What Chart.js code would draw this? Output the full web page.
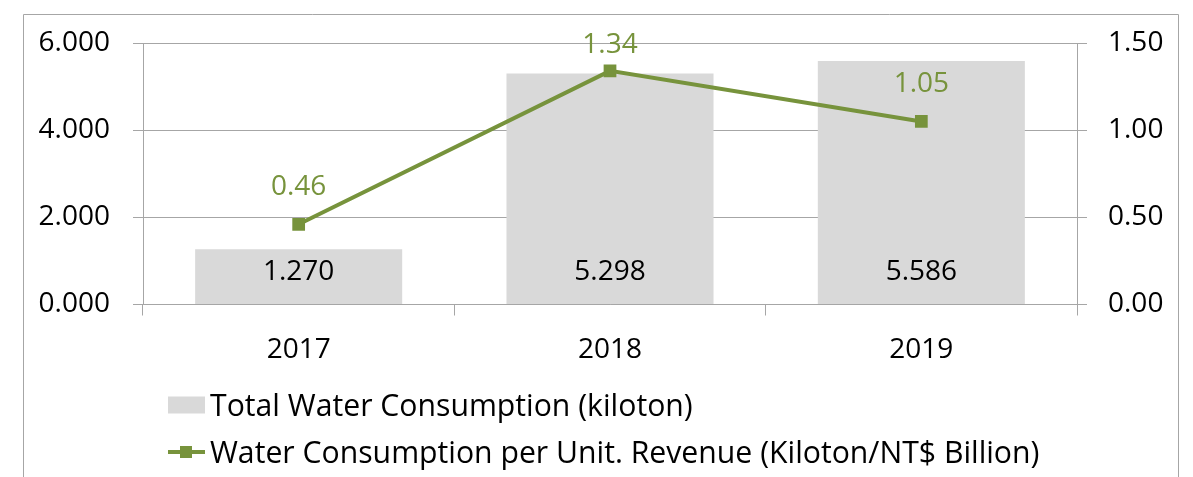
<!DOCTYPE html>
<html>
<head>
<meta charset="utf-8">
<script src="https://cdn.jsdelivr.net/npm/chart.js@4.4.0/dist/chart.umd.min.js"></script>
<style>
  html, body { margin: 0; padding: 0; background: #fff; }
  #wrap { position: relative; width: 1193px; height: 477px; overflow: hidden; font-family: "Open Sans", "Noto Sans", sans-serif; }
  canvas { position: absolute; left: 0; top: 0; }
  .leg { position: absolute; left: 168px; font-size: 30.2px; color: #000; white-space: nowrap; line-height: 1; }
  .leg .txt { position: absolute; left: 42px; top: 0; transform: translateY(-50%); }
  .sw-bar { position: absolute; left: 0; width: 37px; height: 17px; background: #d9d9d9; transform: translateY(-50%); }
  .sw-line { position: absolute; left: 0; width: 37px; height: 4px; background: #77933c; transform: translateY(-50%); }
  .sw-pt { position: absolute; left: 12px; width: 12px; height: 12px; background: #77933c; transform: translateY(-50%); }
</style>
</head>
<body>
<div id="wrap">
  <canvas id="c" width="1193" height="477"></canvas>
  <div class="leg" style="top:405px;"><div class="sw-bar"></div><div class="txt" id="leg1"></div></div>
  <div class="leg" style="top:452px;"><div class="sw-line"></div><div class="sw-pt"></div><div class="txt" id="leg2"></div></div>
</div>
<script>
const categories = ["2017", "2018", "2019"];
const totalWater = [1.270, 5.298, 5.586];
const waterPerRevenue = [0.46, 1.34, 1.05];
const barName = "Total Water Consumption (kiloton)";
const lineName = "Water Consumption per Unit. Revenue (Kiloton/NT$ Billion)";
const leftTicks = [0, 2, 4, 6];
const rightTicks = [0, 0.5, 1.0, 1.5];

document.getElementById('leg1').textContent = barName;
document.getElementById('leg2').textContent = lineName;

const FONT = '"Open Sans", "Noto Sans", sans-serif';
const GREEN = '#77933c';
const GRID = '#a6a6a6';

const framePlugin = {
  id: 'frame',
  beforeDraw(chart) {
    const ctx = chart.ctx;
    ctx.save();
    ctx.strokeStyle = GRID;
    ctx.lineWidth = 1;
    ctx.beginPath();
    ctx.moveTo(23.5, 480);
    ctx.lineTo(23.5, 14.5);
    ctx.lineTo(1178.5, 14.5);
    ctx.lineTo(1178.5, 480);
    ctx.stroke();
    ctx.restore();
  }
};

const labelPlugin = {
  id: 'vlabels',
  afterDatasetsDraw(chart) {
    const ctx = chart.ctx;
    ctx.save();
    ctx.font = '28px ' + FONT;
    ctx.textAlign = 'center';
    ctx.textBaseline = 'middle';
    const barMeta = chart.getDatasetMeta(1);
    const base = chart.scales.y.getPixelForValue(0);
    barMeta.data.forEach((el, i) => {
      ctx.fillStyle = '#000';
      ctx.fillText(totalWater[i].toFixed(3), el.x, base - 32);
    });
    const lineMeta = chart.getDatasetMeta(0);
    lineMeta.data.forEach((el, i) => {
      ctx.fillStyle = GREEN;
      ctx.fillText(waterPerRevenue[i].toFixed(2), el.x, Math.max(el.y - 37, 45));
    });
    ctx.restore();
  }
};

new Chart(document.getElementById('c'), {
  data: {
    labels: categories,
    datasets: [
      {
        type: 'line',
        label: lineName,
        data: waterPerRevenue,
        yAxisID: 'y1',
        borderColor: GREEN,
        backgroundColor: GREEN,
        borderWidth: 4,
        pointStyle: 'rect',
        pointRadius: 9,
        pointHoverRadius: 9,
        pointBackgroundColor: GREEN,
        pointBorderWidth: 0,
        tension: 0,
        order: 0
      },
      {
        type: 'bar',
        label: barName,
        data: totalWater,
        yAxisID: 'y',
        backgroundColor: '#d9d9d9',
        borderWidth: 0,
        categoryPercentage: 0.665,
        barPercentage: 1.0,
        order: 1
      }
    ]
  },
  options: {
    responsive: false,
    devicePixelRatio: 1,
    animation: false,
    layout: { padding: { top: 43, left: 0, right: 0, bottom: 0 } },
    plugins: { legend: { display: false }, tooltip: { enabled: false } },
    scales: {
      x: {
        grid: { display: true, offset: true, drawOnChartArea: false, drawTicks: true, tickLength: 11, color: GRID, lineWidth: 1 },
        border: { display: true, color: GRID, width: 1 },
        ticks: { color: '#000', font: { size: 28, family: FONT }, padding: 18 },
        afterFit(s) { s.height = 172.5; }
      },
      y: {
        position: 'left',
        min: 0, max: 6,
        afterBuildTicks(s) { s.ticks = leftTicks.map(v => ({ value: v })); },
        grid: { color: GRID, lineWidth: 1, tickLength: 10 },
        border: { display: true, color: GRID, width: 1 },
        ticks: { color: '#000', font: { size: 28, family: FONT }, padding: 23, callback: v => Number(v).toFixed(3) },
        afterFit(s) { s.width = 143; }
      },
      y1: {
        position: 'right',
        min: 0, max: 1.5,
        afterBuildTicks(s) { s.ticks = rightTicks.map(v => ({ value: v })); },
        grid: { color: GRID, lineWidth: 1, tickLength: 10, drawOnChartArea: false },
        border: { display: true, color: GRID, width: 1 },
        ticks: { color: '#000', font: { size: 28, family: FONT }, padding: 21, callback: v => Number(v).toFixed(2) },
        afterFit(s) { s.width = 116; }
      }
    }
  },
  plugins: [framePlugin, labelPlugin]
});
</script>
</body>
</html>
